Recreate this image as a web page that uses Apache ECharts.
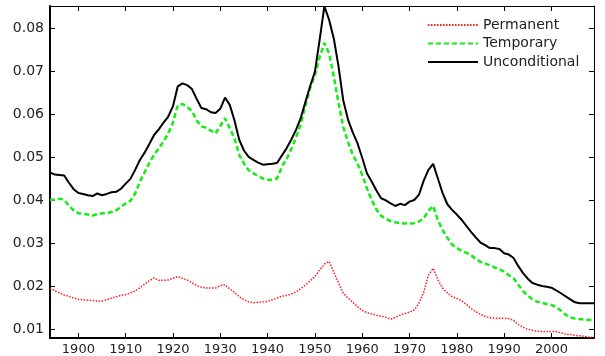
<!DOCTYPE html>
<html>
<head>
<meta charset="utf-8">
<title>Permanent / Temporary / Unconditional</title>
<script src="https://cdn.jsdelivr.net/npm/echarts@6/dist/echarts.min.js"></script>
<style>
  html, body { margin: 0; padding: 0; background: #fff; }
  #main { width: 605px; height: 356px; }
</style>
</head>
<body>
<div id="main"></div>
<script>
// years 1894 - 2009
const firstYear = 1894
const lastYear = 2009

const xTicks = [1900, 1910, 1920, 1930, 1940, 1950, 1960, 1970, 1980, 1990, 2000]
const yTicks = [0.01, 0.02, 0.03, 0.04, 0.05, 0.06, 0.07, 0.08]

// permanent (red dotted)
const permanent = [
  0.0195, 0.0189, 0.0184, 0.0179, 0.0176, 0.0172,
  0.0169, 0.0168, 0.0167, 0.0166, 0.0165, 0.0165, 0.0168, 0.0172, 0.0175, 0.0178,
  0.0180, 0.0184, 0.0188, 0.0196, 0.0204, 0.0212, 0.0219, 0.0213, 0.0213, 0.0214,
  0.0218, 0.0222, 0.0218, 0.0214, 0.0208, 0.0201, 0.0197, 0.0195, 0.0195, 0.0195,
  0.0201, 0.0203, 0.0193, 0.0185, 0.0175, 0.0168, 0.0163, 0.0161, 0.0162, 0.0163,
  0.0164, 0.0168, 0.0172, 0.0176, 0.0178, 0.0181, 0.0186, 0.0194, 0.0202, 0.0212,
  0.0222, 0.0237, 0.0251, 0.0257, 0.0232, 0.0207, 0.0183, 0.0172, 0.0162, 0.0152,
  0.0143, 0.0138, 0.0135, 0.0132, 0.0130, 0.0127, 0.0123, 0.0127, 0.0132, 0.0136,
  0.0139, 0.0144, 0.0160, 0.0185, 0.0225, 0.0241, 0.0214, 0.0195, 0.0184, 0.0175,
  0.0171, 0.0166, 0.0157, 0.0148, 0.0140, 0.0134, 0.0129, 0.0126, 0.0125, 0.0125,
  0.0125, 0.0124, 0.0120, 0.0110, 0.0104, 0.0099, 0.0097, 0.0095, 0.0094, 0.0094,
  0.0094, 0.0094, 0.0091, 0.0088, 0.0087, 0.0085, 0.0084, 0.0083, 0.0081, 0.0081
]

// temporary (green dashed)
const temporary = [
  0.0400, 0.0401, 0.0403, 0.0400, 0.0387, 0.0376,
  0.0369, 0.0368, 0.0366, 0.0364, 0.0367, 0.0369, 0.0369, 0.0372, 0.0376, 0.0384,
  0.0392, 0.0398, 0.0415, 0.0442, 0.0464, 0.0486, 0.0505, 0.0520, 0.0536, 0.0555,
  0.0580, 0.0620, 0.0623, 0.0616, 0.0607, 0.0585, 0.0571, 0.0568, 0.0561, 0.0555,
  0.0572, 0.0590, 0.0567, 0.0543, 0.0505, 0.0485, 0.0469, 0.0462, 0.0455, 0.0450,
  0.0447, 0.0447, 0.0450, 0.0477, 0.0495, 0.0518, 0.0545, 0.0575, 0.0620, 0.0660,
  0.0690, 0.0732, 0.0765, 0.0741, 0.0687, 0.0625, 0.0570, 0.0535, 0.0505, 0.0485,
  0.0458, 0.0427, 0.0400, 0.0378, 0.0363, 0.0356, 0.0351, 0.0348, 0.0346, 0.0345,
  0.0345, 0.0346, 0.0350, 0.0357, 0.0375, 0.0386, 0.0353, 0.0330, 0.0312, 0.0296,
  0.0288, 0.0282, 0.0277, 0.0272, 0.0263, 0.0256, 0.0252, 0.0248, 0.0243, 0.0239,
  0.0233, 0.0225, 0.0218, 0.0203, 0.0188, 0.0177, 0.0169, 0.0163, 0.0161, 0.0158,
  0.0156, 0.0151, 0.0143, 0.0133, 0.0127, 0.0124, 0.0123, 0.0122, 0.0121, 0.0121
]

// unconditional (black solid)
const unconditional = [
  0.0464, 0.0459, 0.0458, 0.0457, 0.0440, 0.0425,
  0.0416, 0.0414, 0.0411, 0.0409, 0.0415, 0.0411, 0.0414, 0.0418, 0.0419, 0.0426,
  0.0438, 0.0449, 0.0470, 0.0493, 0.0510, 0.0530, 0.0551, 0.0564, 0.0580, 0.0594,
  0.0618, 0.0664, 0.0671, 0.0667, 0.0658, 0.0635, 0.0614, 0.0611, 0.0604, 0.0602,
  0.0612, 0.0638, 0.0621, 0.0585, 0.0540, 0.0515, 0.0500, 0.0493, 0.0487, 0.0482,
  0.0483, 0.0484, 0.0486, 0.0503, 0.0520, 0.0540, 0.0563, 0.0590, 0.0628, 0.0665,
  0.0698, 0.0772, 0.0850, 0.0819, 0.0775, 0.0710, 0.0631, 0.0587, 0.0557, 0.0532,
  0.0498, 0.0462, 0.0443, 0.0422, 0.0404, 0.0399, 0.0392, 0.0386, 0.0391, 0.0388,
  0.0396, 0.0400, 0.0412, 0.0445, 0.0470, 0.0484, 0.0450, 0.0416, 0.0390, 0.0377,
  0.0366, 0.0354, 0.0340, 0.0326, 0.0313, 0.0301, 0.0295, 0.0288, 0.0288, 0.0286,
  0.0276, 0.0273, 0.0265, 0.0246, 0.0230, 0.0217, 0.0207, 0.0203, 0.0200, 0.0198,
  0.0196, 0.0190, 0.0183, 0.0176, 0.0169, 0.0162, 0.0160, 0.0160, 0.0160, 0.0160
]

// [year, value] pairs for a value x-axis
const toPairs = (arr) => arr.map((v, i) => [firstYear + i, v])

const font = 'DejaVu Sans'

// shared axis look: box frame, ticks pointing inwards
const boxAxis = (extra) => Object.assign({
  type: 'value',
  axisLine: { show: true, onZero: false, lineStyle: { color: '#000', width: 1 } },
  axisTick: { show: true, inside: true, length: 5, lineStyle: { color: '#000' } },
  splitLine: { show: false },
  axisLabel: { show: false }
}, extra)

const chart = echarts.init(document.getElementById('main'))

const option = {
  backgroundColor: '#fff',
  animation: false,
  grid: { left: 50, right: 11, top: 6, bottom: 18 },
  legend: {
    orient: 'vertical',
    left: 427,
    top: 18,
    padding: 0,
    itemWidth: 50,
    itemHeight: 14,
    itemGap: 4.5,
    // hide the round marker, keep only the line sample
    itemStyle: { opacity: 0 },
    textStyle: { fontFamily: font, fontSize: 14, color: '#222' },
    data: ['Permanent', 'Temporary', 'Unconditional']
  },
  xAxis: [
    boxAxis({
      position: 'bottom',
      min: firstYear,
      max: lastYear,
      axisLine: { show: true, onZero: false, lineStyle: { color: '#000', width: 2 } },
      axisTick: { show: true, inside: true, length: 5, customValues: xTicks, lineStyle: { color: '#000' } },
      axisLabel: {
        show: true,
        customValues: xTicks,
        margin: 5,
        fontFamily: font,
        fontSize: 13,
        color: '#222',
        formatter: (v) => String(v)
      }
    }),
    boxAxis({
      position: 'top',
      min: firstYear,
      max: lastYear,
      axisTick: { show: true, inside: true, length: 5, customValues: xTicks, lineStyle: { color: '#000' } }
    })
  ],
  yAxis: [
    boxAxis({
      position: 'left',
      min: 0.0079,
      max: 0.0851,
      axisLine: { show: true, onZero: false, lineStyle: { color: '#000', width: 2 } },
      axisTick: { show: true, inside: true, length: 5, customValues: yTicks, lineStyle: { color: '#000' } },
      axisLabel: {
        show: true,
        customValues: yTicks,
        margin: 6,
        fontFamily: font,
        fontSize: 14,
        color: '#222',
        formatter: (v) => v.toFixed(2)
      }
    }),
    boxAxis({
      position: 'right',
      min: 0.0079,
      max: 0.0851,
      axisTick: { show: true, inside: true, length: 5, customValues: yTicks, lineStyle: { color: '#000' } }
    })
  ],
  series: [
    {
      name: 'Permanent',
      type: 'line',
      data: toPairs(permanent),
      symbol: 'none',
      lineStyle: { color: '#ff1a1a', width: 1.5, type: [1.5, 1.5] },
      itemStyle: { color: '#ff1a1a' }
    },
    {
      name: 'Temporary',
      type: 'line',
      data: toPairs(temporary),
      symbol: 'none',
      lineStyle: { color: '#11ee11', width: 2.5, type: [5, 3] },
      itemStyle: { color: '#11ee11' }
    },
    {
      name: 'Unconditional',
      type: 'line',
      data: toPairs(unconditional),
      symbol: 'none',
      lineStyle: { color: '#000', width: 2 },
      itemStyle: { color: '#000' }
    }
  ]
}

chart.setOption(option)
</script>
</body>
</html>
